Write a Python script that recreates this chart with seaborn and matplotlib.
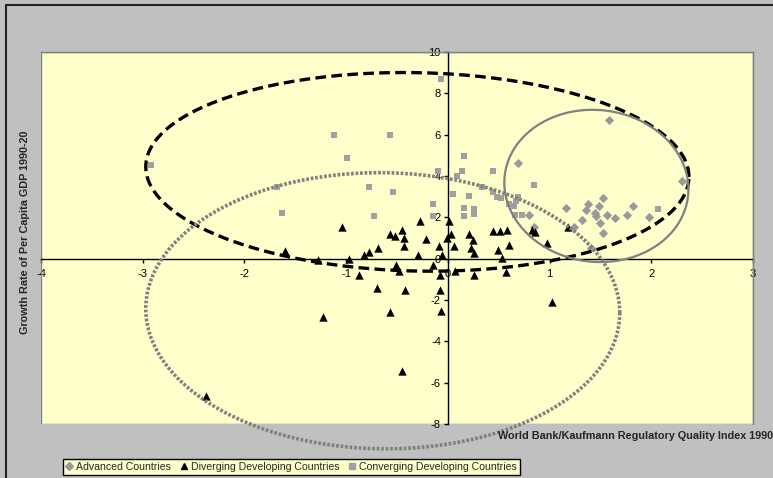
import numpy as np
import pandas as pd
import matplotlib
matplotlib.use("Agg")
import matplotlib.pyplot as plt
from matplotlib.lines import Line2D
import seaborn as sns

# Regulatory quality index (x) vs. per-capita GDP growth (y)
adv_x = [1.58, 0.69, 2.30, 1.53, 1.16, 1.38, 1.36, 1.49, 1.45, 1.46, 1.56,
         1.82, 1.76, 1.64, 1.32, 1.50, 1.24, 1.53, 1.98, 0.80, 0.85, 1.41]
adv_y = [6.73, 4.65, 3.74, 2.94, 2.45, 2.63, 2.36, 2.55, 2.22, 2.05, 2.13,
         2.54, 2.13, 1.97, 1.87, 1.71, 1.51, 1.22, 2.01, 2.13, 1.54, 0.50]

div_x = [-1.60, -1.28, -1.23, -2.38, -1.04, -0.27, 0.01, -0.45, -0.57, -0.52,
         -0.43, -0.21, -0.43, 0.03, -0.01, 0.21, 0.25, -0.09, 0.06, 0.23,
         0.26, -0.69, -0.78, -0.82, -0.97, -0.29, -0.055, -0.15, -0.51, -0.48,
         -0.87, -0.08, 0.066, 0.26, 0.44, 0.51, 0.58, 0.60, 0.49, 0.53,
         0.57, -0.70, -0.42, -0.08, -0.57, -0.065, -0.45, 1.02, 0.83, 0.86,
         0.97, 1.18]
div_y = [0.37, -0.08, -2.83, -6.63, 1.51, 1.83, 1.83, 1.41, 1.19, 1.10,
         1.02, 0.93, 0.61, 1.19, 1.02, 1.19, 0.91, 0.61, 0.61, 0.50,
         0.29, 0.52, 0.32, 0.18, 0.0, 0.18, 0.18, -0.31, -0.31, -0.62,
         -0.81, -0.81, -0.62, -0.81, 1.32, 1.32, 1.41, 0.68, 0.40, 0.03,
         -0.65, -1.41, -1.50, -1.50, -2.60, -2.51, -5.45, -2.10, 1.40, 1.30,
         0.78, 1.53]

conv_x = [-2.92, -1.68, -1.63, -1.12, -0.57, -0.99, 0.154, -0.10, 0.135, 0.092,
          0.44, -0.78, -0.54, 0.046, 0.21, 0.34, 0.44, 0.48, -0.15, 0.154,
          0.26, 0.26, 0.154, -0.73, -0.15, -0.07, 0.85, 0.52, 0.69, 0.67,
          0.60, 0.65, 0.66, 0.73, 2.07]
conv_y = [4.55, 3.46, 2.22, 5.98, 5.98, 4.88, 4.98, 4.24, 4.24, 3.98,
          4.24, 3.46, 3.25, 3.15, 3.05, 3.46, 3.25, 2.96, 2.63, 2.45,
          2.39, 2.15, 2.05, 2.08, 2.05, 8.67, 3.56, 2.93, 2.96, 2.81,
          2.65, 2.57, 2.13, 2.13, 2.39]

groups = ["Advanced Countries", "Diverging Developing Countries",
          "Converging Developing Countries"]
x_ticks = [-4, -3, -2, -1, 0, 1, 2, 3]
y_ticks = [-8, -6, -4, -2, 0, 2, 4, 6, 8, 10]

df = pd.concat([
    pd.DataFrame({"x": adv_x, "y": adv_y, "group": groups[0]}),
    pd.DataFrame({"x": div_x, "y": div_y, "group": groups[1]}),
    pd.DataFrame({"x": conv_x, "y": conv_y, "group": groups[2]}),
])

sns.set_theme(style="ticks")
plt.rcParams["font.family"] = ["Liberation Sans", "DejaVu Sans"]
plt.rcParams["axes.unicode_minus"] = False

W, H = 773, 478
fig = plt.figure(figsize=(W / 100, H / 100), dpi=100, facecolor="#C0C0C0")
ax = fig.add_axes([41 / W, 1 - 424 / H, (753 - 41) / W, (424 - 52) / H])
ax.set_facecolor("#FFFFCC")

styles = {
    groups[0]: dict(marker="D", color="#999999", s=22),
    groups[1]: dict(marker="^", color="black", s=36),
    groups[2]: dict(marker="s", color="#A0A0A0", s=24),
}
for g in groups:
    st = styles[g]
    sns.scatterplot(data=df[df.group == g], x="x", y="y", ax=ax,
                    marker=st["marker"], color=st["color"], s=st["s"],
                    linewidth=0, label=g, zorder=3, legend=False)


def ellipse(cx, cy, a, b, tilt, **kw):
    t = np.linspace(0, 2 * np.pi, 400)
    ex = cx + a * np.cos(t)
    ey = cy + b * np.sin(t) - tilt * np.cos(t)
    ax.plot(ex, ey, clip_on=False, zorder=4, **kw)


ellipse(-0.30, 4.20, 2.67, 4.80, 0.245, color="black", lw=2.4,
        linestyle=(0, (3.2, 1.6)), dash_capstyle="butt")
ellipse(1.46, 3.52, 0.905, 3.68, 0.16, color="#808080", lw=1.6)
ellipse(-0.64, -2.52, 2.33, 6.68, 0.1, color="#808080", lw=2.6,
        linestyle=(0, (0.75, 0.5)), dash_capstyle="butt")

ax.set_xlim(-4, 3)
ax.set_ylim(-8, 10)
ax.set_xticks(x_ticks)
ax.set_yticks(y_ticks)
ax.set_xlabel("")
ax.set_ylabel("")

# Excel-style axes crossing at the origin, grey plot-area frame
for side in ["left", "bottom"]:
    ax.spines[side].set_position(("data", 0))
    ax.spines[side].set_color("black")
    ax.spines[side].set_linewidth(1.0)
    ax.spines[side].set_zorder(2)
for side in ["top", "right"]:
    ax.spines[side].set_visible(True)
    ax.spines[side].set_color("#808080")
    ax.spines[side].set_linewidth(1.0)
ax.add_patch(plt.Rectangle((0, 0), 1, 1, transform=ax.transAxes, fill=False,
                           edgecolor="#808080", lw=1.0, zorder=1))
ax.tick_params(axis="x", direction="out", length=3, width=1, pad=4.5,
               labelsize=8, colors="black")
ax.tick_params(axis="y", direction="out", length=3, width=1, pad=2,
               labelsize=8, colors="black")

fig.text(498 / W, 1 - 436 / H, "World Bank/Kaufmann Regulatory Quality Index 1990",
         ha="left", va="center", fontsize=7.8, fontweight="bold")
fig.text(25 / W, 1 - 232 / H, "Growth Rate of Per Capita GDP 1990-20",
         ha="center", va="center", rotation=90, fontsize=7.8, fontweight="bold")

# outer chart border (top and left visible in the crop)
fig.add_artist(Line2D([6 / W, 6 / W], [0, 1 - 5 / H], transform=fig.transFigure,
                      color="#222222", lw=1.5))
fig.add_artist(Line2D([6 / W, 1], [1 - 5 / H, 1 - 5 / H], transform=fig.transFigure,
                      color="#222222", lw=1.5))

handles = [Line2D([], [], linestyle="none", marker=styles[g]["marker"],
                  color=styles[g]["color"], markersize=4) for g in groups]
leg = fig.legend(handles, groups, loc="upper left",
                 bbox_to_anchor=(63 / W, 1 - 459 / H), ncol=3, frameon=True,
                 fancybox=False, edgecolor="black", facecolor="#FFFFCC",
                 framealpha=1, fontsize=7.6, handlelength=0.6,
                 handletextpad=0.35, columnspacing=0.9, borderpad=0.3,
                 borderaxespad=0)
leg.get_frame().set_linewidth(1.0)

fig.savefig("out.png", dpi=100, facecolor=fig.get_facecolor())
